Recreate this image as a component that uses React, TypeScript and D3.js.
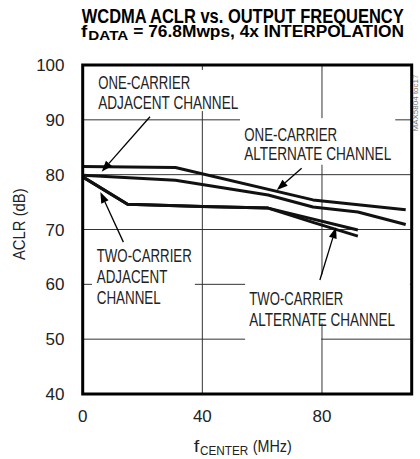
import React from "react";
import * as d3 from "d3";

// ---- data ----
const oneAdjX = [0, 31, 77, 108];
const oneAdjY = [81.5, 81.3, 75.4, 73.6];

const oneAltX = [0, 31, 62, 77, 92, 108];
const oneAltY = [79.9, 79.0, 76.3, 74.1, 73.2, 70.9];

const twoAdjX = [0, 15, 40, 62, 92];
const twoAdjY = [79.6, 74.6, 74.2, 73.9, 69.9];

const twoAltX = [0, 15, 40, 62, 77, 92];
const twoAltY = [79.6, 74.6, 74.2, 73.9, 71.3, 68.8];

const xTicks = [0, 40, 80];
const yTicks = [40, 50, 60, 70, 80, 90, 100];
const xGrid = [40, 80];
const yGrid = [50, 60, 70, 80, 90];

const W = 420;
const H = 459;
const FONT = "'Liberation Sans Narrow', 'Liberation Sans', Arial, sans-serif";

const x = d3.scaleLinear().domain([0, 110]).range([82.7, 411.7]);
const y = d3.scaleLinear().domain([40, 100]).range([394, 65]);

const series = [
  { xs: oneAdjX, ys: oneAdjY },
  { xs: oneAltX, ys: oneAltY },
  { xs: twoAdjX, ys: twoAdjY },
  { xs: twoAltX, ys: twoAltY },
];

// annotation text blocks: x in data units, baselines in data units
const labels = [
  { x: 5.2, lines: [{ t: "ONE-CARRIER", y: 95.57, w: 92 }, { t: "ADJACENT CHANNEL", y: 91.92, w: 140 }] },
  { x: 54.0, lines: [{ t: "ONE-CARRIER", y: 86.14, w: 93 }, { t: "ALTERNATE CHANNEL", y: 82.67, w: 147 }] },
  { x: 4.7, lines: [{ t: "TWO-CARRIER", y: 64.13, w: 95 }, { t: "ADJACENT", y: 60.19, w: 70.6 }, { t: "CHANNEL", y: 56.41, w: 64 }] },
  { x: 55.7, lines: [{ t: "TWO-CARRIER", y: 56.23, w: 94 }, { t: "ALTERNATE CHANNEL", y: 52.4, w: 145.7 }] },
];

// white masks behind labels (data units: x0,x1,y0,y1)
const masks = [
  { x0: 3.8, x1: 52.6, y0: 91.6, y1: 99.1 },
  { x0: 52.6, x1: 104.5, y0: 81.8, y1: 90.3 },
  { x0: 3.1, x1: 37.5, y0: 56.0, y1: 65.5 },
  { x0: 54.3, x1: 109.4, y0: 52.9, y1: 61.8 },
  { x0: 54.3, x1: 79.7, y0: 49.3, y1: 53.0 },
];

// arrows: tail -> tip in data units
const arrows = [
  { x1: 22.5, y1: 90.57, x2: 6.35, y2: 80.54 },
  { x1: 73.2, y1: 81.16, x2: 64.9, y2: 77.2 },
  { x1: 13.6, y1: 67.7, x2: 5.9, y2: 76.84 },
  { x1: 79.3, y1: 60.8, x2: 84.7, y2: 70.4 },
];

function Arrow({ a }: { a: { x1: number; y1: number; x2: number; y2: number } }) {
  const X1 = x(a.x1), Y1 = y(a.y1), X2 = x(a.x2), Y2 = y(a.y2);
  const ang = Math.atan2(Y2 - Y1, X2 - X1);
  const L = 11, Wd = 4;
  const bx = X2 - L * Math.cos(ang), by = Y2 - L * Math.sin(ang);
  const px = -Math.sin(ang) * Wd, py = Math.cos(ang) * Wd;
  return (
    <g>
      <line x1={X1} y1={Y1} x2={bx} y2={by} stroke="#000" strokeWidth={1.3} />
      <polygon points={`${X2},${Y2} ${bx + px},${by + py} ${bx - px},${by - py}`} fill="#000" />
    </g>
  );
}

export default function App() {
  const line = d3
    .line<[number, number]>()
    .x((d) => x(d[0]))
    .y((d) => y(d[1]));

  return (
    <svg width={W} height={H} style={{ position: "absolute", left: 0, top: 0, background: "#fff" }} fontFamily={FONT}>
      <rect x={0} y={0} width={W} height={H} fill="#fff" />
      {/* Title */}
      <text x={81.7} y={22.7} fontSize={20} fontWeight="bold" textLength={322} lengthAdjust="spacingAndGlyphs">
        WCDMA ACLR vs. OUTPUT FREQUENCY
      </text>
      <text x={81} y={37.3} fontSize={17} fontWeight="bold" textLength={6.3} lengthAdjust="spacingAndGlyphs">f</text>
      <text x={88.3} y={40} fontSize={12.5} fontWeight="bold" textLength={40} lengthAdjust="spacingAndGlyphs">DATA</text>
      <text x={133.3} y={37.3} fontSize={17} fontWeight="bold" textLength={270.7} lengthAdjust="spacingAndGlyphs">
        = 76.8Mwps, 4x INTERPOLATION
      </text>

      {/* grid */}
      {xGrid.map((v) => (
        <line key={"gx" + v} x1={x(v)} x2={x(v)} y1={y(100)} y2={y(40)} stroke="#333" strokeWidth={1} />
      ))}
      {yGrid.map((v) => (
        <line key={"gy" + v} x1={x(0)} x2={x(110)} y1={y(v)} y2={y(v)} stroke="#333" strokeWidth={1} />
      ))}

      {/* masks */}
      {masks.map((m, i) => (
        <rect key={"m" + i} x={x(m.x0)} y={y(m.y1)} width={x(m.x1) - x(m.x0)} height={y(m.y0) - y(m.y1)} fill="#fff" />
      ))}

      {/* data */}
      {series.map((s, i) => (
        <path
          key={"s" + i}
          d={line(s.xs.map((v, j) => [v, s.ys[j]] as [number, number])) || ""}
          fill="none"
          stroke="#111"
          strokeWidth={3}
          strokeLinejoin="round"
        />
      ))}

      {/* frame */}
      <rect x={x(0)} y={y(100)} width={x(110) - x(0)} height={y(40) - y(100)} fill="none" stroke="#000" strokeWidth={3} />

      {/* tick labels */}
      {yTicks.map((v) => (
        <text key={"yt" + v} x={64.5} y={y(v) + 6} fontSize={17} textAnchor="end" fill="#222">
          {v}
        </text>
      ))}
      {xTicks.map((v) => (
        <text key={"xt" + v} x={x(v)} y={421.7} fontSize={17} textAnchor="middle" fill="#222">
          {v}
        </text>
      ))}

      {/* axis titles */}
      <text
        transform={`translate(24.5,224.2) rotate(-90)`}
        fontSize={16}
        textAnchor="middle"
        fill="#222"
        textLength={71.7}
        lengthAdjust="spacingAndGlyphs"
      >
        ACLR (dB)
      </text>
      <text x={193.8} y={452} fontSize={16} fill="#222" textLength={5.5} lengthAdjust="spacingAndGlyphs">f</text>
      <text x={200} y={455} fontSize={12.5} fill="#222" textLength={48.3} lengthAdjust="spacingAndGlyphs">CENTER</text>
      <text x={252.7} y={452} fontSize={16} fill="#222" textLength={39} lengthAdjust="spacingAndGlyphs">(MHz)</text>

      {/* annotations */}
      {labels.map((lb, i) => (
        <g key={"lb" + i}>
          {lb.lines.map((ln, j) => (
            <text
              key={j}
              x={x(lb.x)}
              y={y(ln.y)}
              fontSize={18}
              fill="#222"
              textLength={ln.w}
              lengthAdjust="spacingAndGlyphs"
            >
              {ln.t}
            </text>
          ))}
        </g>
      ))}
      {arrows.map((a, i) => (
        <Arrow key={"a" + i} a={a} />
      ))}

      {/* side id */}
      <text
        transform={`translate(418,103) rotate(-90)`}
        fontSize={8}
        textAnchor="middle"
        fill="#777"
        textLength={57}
        lengthAdjust="spacingAndGlyphs"
      >
        MAX5804 toc17
      </text>
    </svg>
  );
}
